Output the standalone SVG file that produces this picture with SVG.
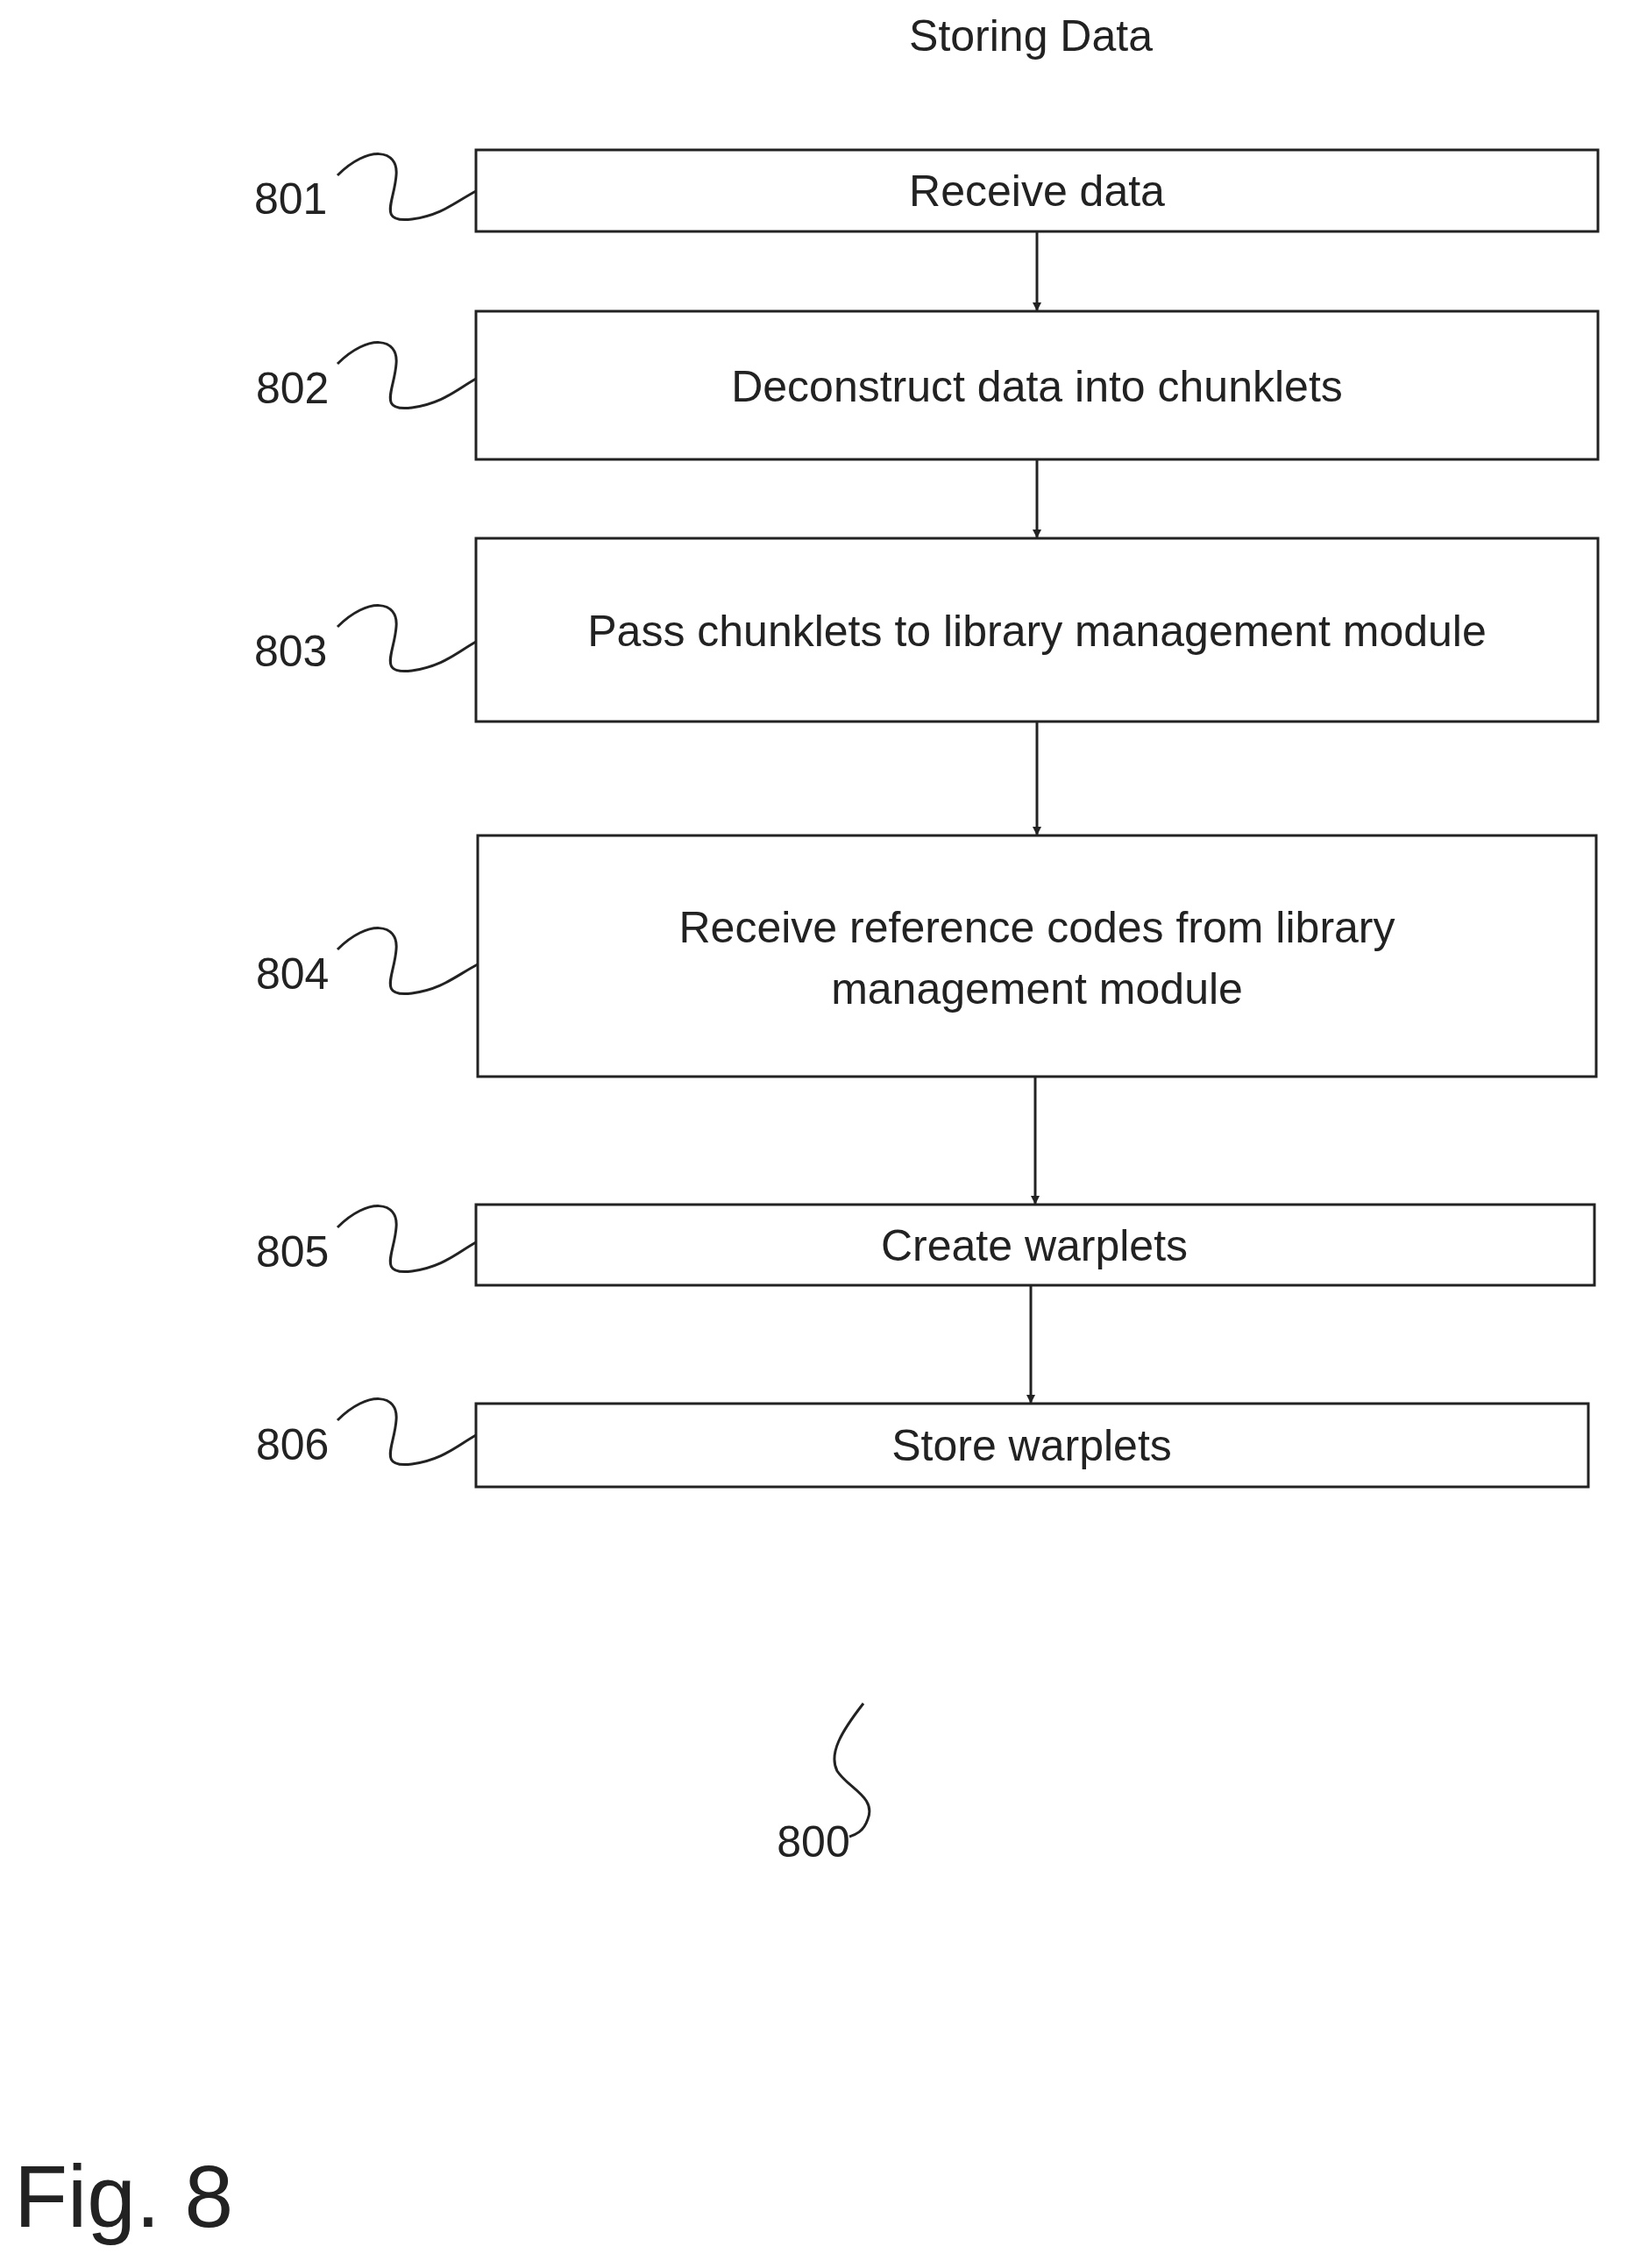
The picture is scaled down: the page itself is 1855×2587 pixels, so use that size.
<svg xmlns="http://www.w3.org/2000/svg" width="1855" height="2587" viewBox="0 0 1855 2587">
<style>
.b{fill:#fff;stroke:#222;stroke-width:3}
.t{font-family:"Liberation Sans",Arial,sans-serif;font-size:50px;fill:#222;text-anchor:middle}
.l{font-family:"Liberation Sans",Arial,sans-serif;font-size:50px;fill:#222}
.c{fill:none;stroke:#222;stroke-width:3}
</style>
<defs><marker id="a" markerWidth="10" markerHeight="10" refX="9" refY="5" orient="auto" markerUnits="userSpaceOnUse"><path d="M0,0 L10,5 L0,10 z" fill="#222"/></marker></defs>
<rect width="1855" height="2587" fill="#fff"/>
<text class="t" x="1176" y="58">Storing Data</text>
<g id="n801"><rect class="b" x="543" y="171" width="1280" height="93"/><text class="t" x="1183" y="235">Receive data</text><text class="l" x="290" y="244">801</text><path class="c" d="M385 200 C420 165 455 170 452 200 C450 230 430 255 470 250 C505 245 520 230 543 218"/></g>
<g id="n802"><rect class="b" x="543" y="355" width="1280" height="169"/><text class="t" x="1183" y="458">Deconstruct data into chunklets</text><text class="l" x="292" y="460">802</text><path class="c" d="M385 415 C420 380 455 385 452 415 C450 445 430 470 470 465 C505 460 520 445 543 432"/></g>
<g id="n803"><rect class="b" x="543" y="614" width="1280" height="209"/><text class="t" x="1183" y="737">Pass chunklets to library management module</text><text class="l" x="290" y="760">803</text><path class="c" d="M385 715 C420 680 455 685 452 715 C450 745 430 770 470 765 C505 760 520 745 543 732"/></g>
<g id="n804"><rect class="b" x="545" y="953" width="1276" height="275"/><text class="t" x="1183" y="1075">Receive reference codes from library</text><text class="t" x="1183" y="1145">management module</text><text class="l" x="292" y="1128">804</text><path class="c" d="M385 1083 C420 1048 455 1053 452 1083 C450 1113 430 1138 470 1133 C505 1128 520 1113 545 1100"/></g>
<g id="n805"><rect class="b" x="543" y="1374" width="1276" height="92"/><text class="t" x="1180" y="1438">Create warplets</text><text class="l" x="292" y="1445">805</text><path class="c" d="M385 1400 C420 1365 455 1370 452 1400 C450 1430 430 1455 470 1450 C505 1445 520 1430 543 1417"/></g>
<g id="n806"><rect class="b" x="543" y="1601" width="1269" height="95"/><text class="t" x="1177" y="1666">Store warplets</text><text class="l" x="292" y="1665">806</text><path class="c" d="M385 1620 C420 1585 455 1590 452 1620 C450 1650 430 1675 470 1670 C505 1665 520 1650 543 1637"/></g>
<g id="connectors">
<line class="c" x1="1183" y1="264" x2="1183" y2="354" marker-end="url(#a)"/>
<line class="c" x1="1183" y1="524" x2="1183" y2="613" marker-end="url(#a)"/>
<line class="c" x1="1183" y1="823" x2="1183" y2="952" marker-end="url(#a)"/>
<line class="c" x1="1181" y1="1228" x2="1181" y2="1373" marker-end="url(#a)"/>
<line class="c" x1="1176" y1="1466" x2="1176" y2="1600" marker-end="url(#a)"/>
</g>
<g id="n800"><path class="c" d="M985 1943 C960 1975 945 2000 955 2020 C968 2040 1000 2050 990 2075 C985 2090 975 2093 969 2095"/><text class="t" x="928" y="2118">800</text></g>
<text x="16" y="2540" font-family="Liberation Sans,Arial,sans-serif" font-size="100" fill="#222">Fig. 8</text>
</svg>
